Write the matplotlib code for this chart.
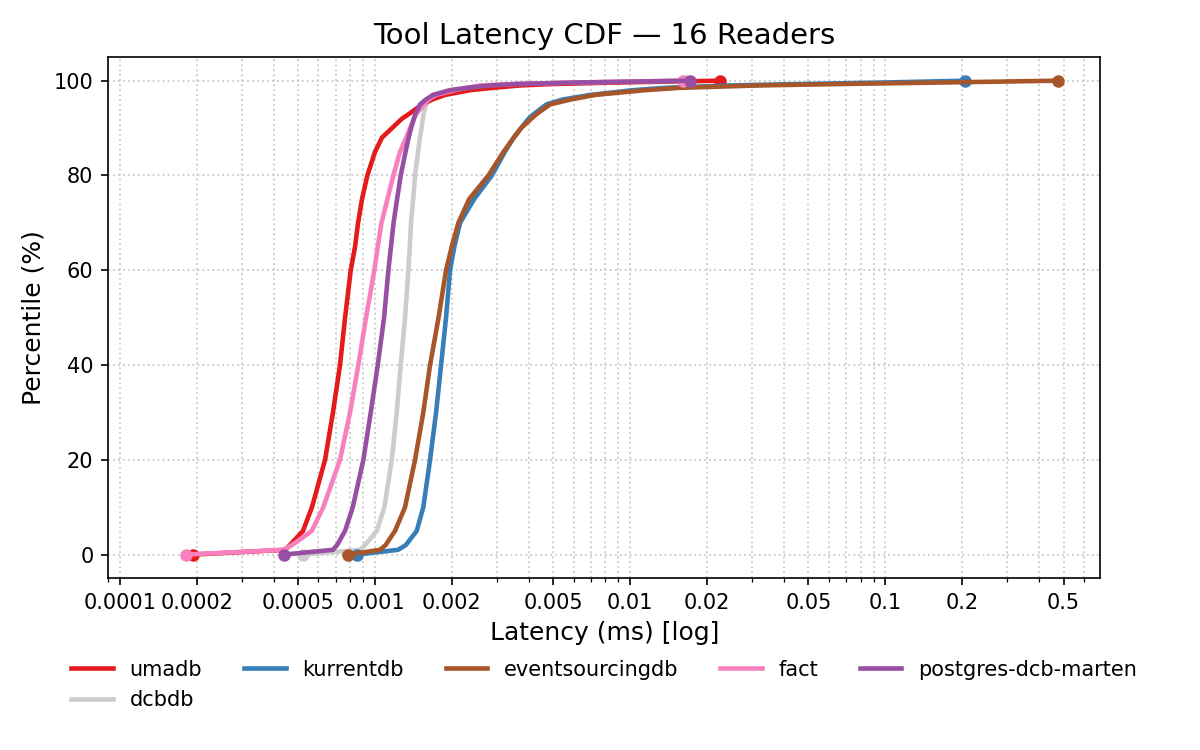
import matplotlib
matplotlib.use("Agg")
import matplotlib.pyplot as plt
from matplotlib.ticker import NullFormatter
from matplotlib.lines import Line2D
import numpy as np

# percentiles shared by every tool
pct = [0, 1, 2, 5, 10, 20, 30, 40, 50, 60, 65, 70, 75, 80, 85, 88, 90,
       92, 93, 95, 96, 97, 98, 98.5, 99, 99.3, 99.6, 100]

# latencies, in microseconds
umadb_us = [0.194, 0.444, 0.464, 0.522, 0.566, 0.637, 0.684, 0.729, 0.763, 0.803, 0.835, 0.858, 0.889,
            0.933, 1.0, 1.065, 1.166, 1.276, 1.36, 1.529, 1.673, 1.882, 2.358, 2.9, 3.704, 5.0, 8.5, 22.4]
kurrentdb_us = [0.853, 1.231, 1.32, 1.457, 1.546, 1.643, 1.735, 1.815, 1.898, 1.968, 2.046, 2.154, 2.445,
                2.869, 3.23, 3.5, 3.737, 4.0, 4.2, 4.7, 5.41, 6.97, 10.27, 13.7, 24.7, 46.4, 95.6, 205]
eventsourcingdb_us = [0.786, 1.046, 1.10, 1.198, 1.311, 1.435, 1.546, 1.643, 1.774, 1.898, 1.999, 2.122, 2.337,
                      2.782, 3.19, 3.5, 3.737, 4.1, 4.306, 4.857, 5.818, 7.3, 11.45, 15.7, 32.3, 66.6, 160, 474]
fact_us = [0.181, 0.436, 0.473, 0.565, 0.627, 0.729, 0.798, 0.860, 0.922, 0.994, 1.025, 1.060, 1.118,
           1.180, 1.253, 1.325, 1.372, 1.422, 1.45, 1.556, 1.62, 1.735, 2.06, 2.3, 2.58, 3.5, 6.0, 16.1]
postgres_us = [0.441, 0.684, 0.710, 0.763, 0.818, 0.900, 0.962, 1.025, 1.085, 1.128, 1.155, 1.182, 1.22,
               1.261, 1.317, 1.355, 1.384, 1.42, 1.44, 1.501, 1.58, 1.688, 1.968, 2.3, 2.825, 3.6, 6.0, 17.1]
dcbdb_us = [0.524, 0.873, 0.914, 1.016, 1.088, 1.163, 1.216, 1.261, 1.311, 1.351, 1.368, 1.384, 1.41,
            1.435, 1.474, 1.50, 1.522, 1.54, 1.55, 1.585, 1.62, 1.688, 1.968, 2.3, 2.825, 3.6, 6.0, 16.5]

tools = ["umadb", "kurrentdb", "eventsourcingdb", "fact", "postgres-dcb-marten", "dcbdb"]
series = [umadb_us, kurrentdb_us, eventsourcingdb_us, fact_us, postgres_us, dcbdb_us]
colors = ["#e41a1c", "#377eb8", "#a65628", "#f781bf", "#984ea3", "#cccccc"]

tick_vals = [0.0001, 0.0002, 0.0005, 0.001, 0.002, 0.005, 0.01, 0.02, 0.05, 0.1, 0.2, 0.5]
tick_labels = ["0.0001", "0.0002", "0.0005", "0.001", "0.002", "0.005",
               "0.01", "0.02", "0.05", "0.1", "0.2", "0.5"]

fig, ax = plt.subplots(figsize=(8, 5), dpi=150)
fig.subplots_adjust(left=0.09, right=0.917, top=0.924, bottom=0.229)

for name, us, c in zip(tools, series, colors):
    z = 1.5 if name == "dcbdb" else 2
    ax.plot(np.array(us) / 1000, pct, color=c, lw=2.2, marker="o", markevery=[0, -1],
            ms=5, zorder=z)

ax.set_xscale("log")
ax.set_xlim(0.0000898, 0.697)
ax.set_ylim(-5, 105)
ax.set_xticks(tick_vals)
ax.set_xticklabels(tick_labels)
ax.xaxis.set_minor_formatter(NullFormatter())
ax.set_yticks([0, 20, 40, 60, 80, 100])
ax.tick_params(labelsize=10)

ax.grid(True, which="both", axis="x", linestyle=":", color="#cccccc", lw=0.9)
ax.grid(True, which="major", axis="y", linestyle=":", color="#cccccc", lw=0.9)

ax.set_xlabel("Latency (ms) [log]", fontsize=12)
ax.set_ylabel("Percentile (%)", fontsize=12)
ax.set_title("Tool Latency CDF — 16 Readers", fontsize=14)

# legend filled row by row: matplotlib fills columns, so reorder
handles = [Line2D([], [], color=c, lw=2.2) for c in colors]
order = [0, 5, 1, 2, 3, 4]
ax.legend([handles[i] for i in order], [tools[i] for i in order],
          loc="upper center", bbox_to_anchor=(0.5, -0.12), ncol=5, frameon=False, fontsize=10)

fig.savefig("out.png", dpi=150)
